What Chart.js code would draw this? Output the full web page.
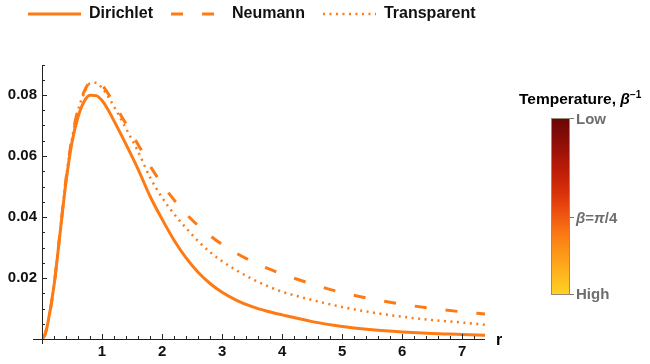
<!DOCTYPE html>
<html><head><meta charset="utf-8">
<script src="https://cdn.jsdelivr.net/npm/chart.js@4.4.0/dist/chart.umd.min.js"></script>
<style>
html,body{margin:0;padding:0;background:#fff;}
#wrap{position:relative;width:650px;height:364px;overflow:hidden;}
#wrap canvas#c{position:absolute;left:0;top:0;}
#cbTitle{position:absolute;left:519px;top:90px;font:bold 15.5px "Liberation Sans",Arial,sans-serif;color:#000;white-space:nowrap;line-height:18px;}
#cbTitle sup{font-size:10px;vertical-align:6px;line-height:0;}
#cbBar{position:absolute;left:551px;top:118px;width:17px;height:175px;border:1px solid #9a8a7a;
 background:linear-gradient(to bottom,#690705 0%,#8f0f07 14%,#b91b08 28%,#d8300a 42%,#f05510 55%,#fb7a14 66%,#fd9a19 78%,#feb61e 89%,#ffd224 100%);}
.cbTick{position:absolute;left:570px;width:4px;height:1px;background:#777;}
.cbLab{position:absolute;left:576px;font:bold 15px "Liberation Sans",Arial,sans-serif;color:#6e6e6e;white-space:nowrap;line-height:18px;transform:translateY(-50%);}
</style>
</head><body>
<div id="wrap">
<canvas id="c" width="650" height="364"></canvas>
<div id="cbTitle">Temperature, <i>β</i><sup>−1</sup></div>
<div id="cbBar"></div>
<div class="cbTick" style="top:118px"></div>
<div class="cbTick" style="top:217px"></div>
<div class="cbTick" style="top:294px"></div>
<div class="cbLab" style="top:118.5px">Low</div>
<div class="cbLab" style="top:217.5px"><i>β</i>=<i>π</i>/4</div>
<div class="cbLab" style="top:294px">High</div>
</div>
<script>
// ---- data ----
const rValues = [0, 0.05, 0.1, 0.2, 0.3, 0.4, 0.5, 0.6, 0.7, 0.8, 0.9, 1.0, 1.1, 1.2, 1.4, 1.6, 1.8, 2.0, 2.2, 2.4, 2.6, 2.8, 3.0, 3.25, 3.5, 3.75, 4.0, 4.5, 5.0, 5.5, 6.0, 6.5, 7.0, 7.38];
const dirichlet = [0, 0.0015, 0.0055, 0.0175, 0.0345, 0.0515, 0.0645, 0.0728, 0.0778, 0.0799, 0.0798, 0.0782, 0.0752, 0.0715, 0.0638, 0.0557, 0.0468, 0.0393, 0.0324, 0.0266, 0.0219, 0.0182, 0.0153, 0.0126, 0.0106, 0.0091, 0.0079, 0.0057, 0.0041, 0.0030, 0.0023, 0.0018, 0.0015, 0.0012];
const neumann   = [0, 0.0015, 0.0055, 0.0175, 0.0348, 0.0525, 0.0660, 0.0752, 0.0810, 0.0842, 0.0846, 0.0832, 0.0805, 0.0772, 0.0705, 0.0638, 0.0568, 0.0508, 0.0456, 0.0410, 0.0372, 0.0339, 0.0310, 0.0280, 0.0254, 0.0232, 0.0213, 0.0180, 0.0152, 0.0131, 0.0114, 0.0100, 0.0089, 0.0082];
const transparent = [0, 0.0015, 0.0055, 0.0175, 0.0348, 0.0525, 0.0658, 0.0750, 0.0805, 0.0838, 0.0840, 0.0823, 0.0795, 0.0762, 0.0690, 0.0615, 0.0530, 0.0464, 0.0410, 0.0364, 0.0321, 0.0285, 0.0255, 0.0224, 0.0197, 0.0174, 0.0155, 0.0128, 0.0105, 0.0087, 0.0073, 0.0062, 0.0054, 0.0047];
const seriesNames = ['Dirichlet', 'Neumann', 'Transparent'];
const xTicks = [1, 2, 3, 4, 5, 6, 7];
const yTicks = [0.02, 0.04, 0.06, 0.08];
const xRange = [0, 7.38];
const yRange = [0, 0.09];

const ORANGE = 'rgb(253,122,20)';
const FONT = '"Liberation Sans", Arial, sans-serif';
const toXY = arr => rValues.map((r, i) => ({x: r, y: arr[i]}));

const lineStyles = [
  {width: 3, dash: []},
  {width: 3, dash: [12, 19]},
  {width: 2.5, dash: [2, 4.5]}
];

function legendSample(style) {
  const cv = document.createElement('canvas');
  cv.width = 54; cv.height = 6;
  const g = cv.getContext('2d');
  g.strokeStyle = ORANGE;
  g.lineWidth = style.width;
  g.setLineDash(style.dash);
  g.beginPath(); g.moveTo(1, 3); g.lineTo(54, 3); g.stroke();
  return cv;
}
const legendSamples = lineStyles.map(legendSample);

const axesPlugin = {
  id: 'mmaAxes',
  afterLayout(chart) {
    const L = chart.legend;
    if (L) {
      const dy = L.top - (-11);
      L.top -= dy; L.bottom -= dy;
      const dx = L.left - 10;
      L.left -= dx; L.right -= dx;
    }
  },
  afterDatasetsDraw(chart) {
    const {ctx, chartArea: a, scales: {x, y}} = chart;
    const x0 = x.getPixelForValue(0), y0 = y.getPixelForValue(0);
    ctx.save();
    ctx.strokeStyle = '#222';
    ctx.lineWidth = 1;
    ctx.beginPath();
    ctx.moveTo(x0 - 9, Math.round(y0) + 0.5); ctx.lineTo(a.right, Math.round(y0) + 0.5);
    ctx.moveTo(Math.round(x0) + 0.5, y0 + 5); ctx.lineTo(Math.round(x0) + 0.5, a.top + 1);
    for (let i = 1; i <= 36; i++) {
      const v = i * 0.2;
      if (v > xRange[1]) break;
      const px = Math.round(x.getPixelForValue(v)) + 0.5;
      const major = i % 5 === 0;
      ctx.moveTo(px, y0); ctx.lineTo(px, y0 - (major ? 5 : 3));
    }
    for (let i = 1; i <= 18; i++) {
      const v = i * 0.005;
      if (v > yRange[1]) break;
      const py = Math.round(y.getPixelForValue(v)) + 0.5;
      const major = i % 4 === 0;
      ctx.moveTo(x0, py); ctx.lineTo(x0 + (major ? 5 : 3), py);
    }
    ctx.stroke();
    ctx.fillStyle = '#000';
    ctx.font = 'bold 16px ' + FONT;
    ctx.textAlign = 'left';
    ctx.textBaseline = 'alphabetic';
    ctx.fillText('r', a.right + 11, y0 + 6);
    ctx.restore();
  }
};

const series = [dirichlet, neumann, transparent];
new Chart(document.getElementById('c'), {
  type: 'line',
  data: {
    datasets: series.map((s, i) => ({
      label: seriesNames[i], data: toXY(s),
      borderColor: ORANGE, backgroundColor: ORANGE,
      borderWidth: lineStyles[i].width, borderDash: lineStyles[i].dash,
      pointRadius: 0, cubicInterpolationMode: 'monotone', fill: false
    }))
  },
  options: {
    responsive: false,
    animation: false,
    layout: {padding: {top: 21.5, left: 0, right: 0, bottom: 0}},
    plugins: {
      legend: {
        position: 'top',
        align: 'start',
        labels: {
          usePointStyle: true,
          pointStyleWidth: 54,
          padding: 17,
          color: '#111',
          font: {family: FONT, size: 16, weight: 'bold'},
          generateLabels: chart => {
            const items = Chart.defaults.plugins.legend.labels.generateLabels(chart);
            items.forEach((it, i) => { it.pointStyle = legendSamples[i]; });
            return items;
          }
        }
      },
      tooltip: {enabled: false}
    },
    scales: {
      x: {
        type: 'linear', min: xRange[0], max: xRange[1],
        grid: {display: false, drawTicks: false},
        border: {display: false},
        afterBuildTicks: s => { s.ticks = xTicks.map(v => ({value: v})); },
        afterFit: s => { s.height = 25; },
        ticks: {padding: 4, color: '#111', font: {family: FONT, size: 15, weight: 'bold'}, maxRotation: 0,
                callback: v => String(v)}
      },
      y: {
        type: 'linear', min: yRange[0], max: yRange[1],
        grid: {display: false, drawTicks: false},
        border: {display: false},
        afterBuildTicks: s => { s.ticks = yTicks.map(v => ({value: v})); },
        afterFit: s => { s.width = 42; },
        ticks: {padding: 5, color: '#111', font: {family: FONT, size: 15, weight: 'bold'},
                callback: v => Number(v).toFixed(2)}
      },
      yPad: {
        type: 'linear', position: 'right', display: true,
        grid: {display: false, drawTicks: false}, border: {display: false},
        ticks: {display: false},
        afterFit: s => { s.width = 165; }
      }
    }
  },
  plugins: [axesPlugin]
});
</script>
</body></html>
